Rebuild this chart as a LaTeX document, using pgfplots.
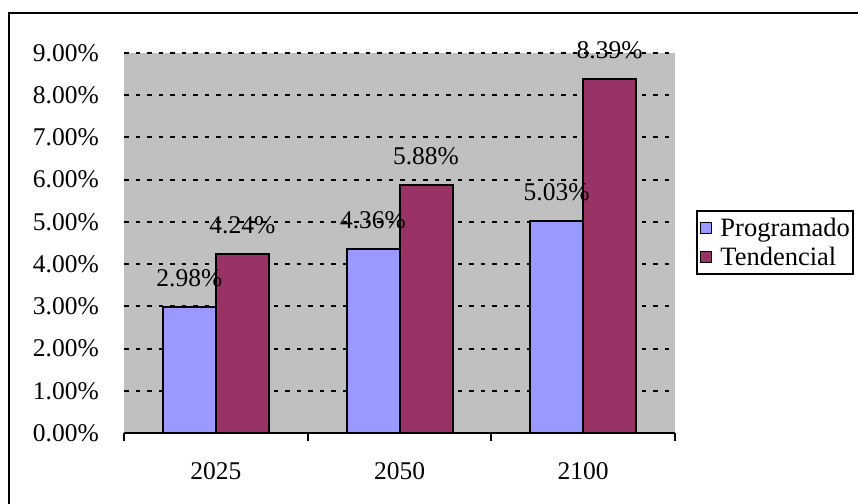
\documentclass[border=0pt]{standalone}
\usepackage{pgfplots}
\pgfplotsset{compat=1.18}
\usepackage{fontspec}
\setmainfont{Liberation Serif}
\definecolor{prog}{HTML}{9999FF}
\definecolor{tend}{HTML}{993366}
\definecolor{bg}{HTML}{C0C0C0}
\begin{document}
\begin{tikzpicture}[x=1bp,y=1bp]
\path[use as bounding box] (0,0) rectangle (858,504);
\draw[line width=2.5bp] (9,-5) -- (9,491) -- (865,491);
\begin{axis}[
  at={(124bp,71bp)}, anchor=south west,
  scale only axis, width=551bp, height=380bp,
  xmin=-0.5, xmax=2.5, ymin=0, ymax=9,
  axis x line*=bottom, axis y line*=left,
  x axis line style={line width=2bp},
  y axis line style={draw=none},
  axis background/.style={fill=bg},
  xtick={0,1,2}, xticklabels={2025,2050,2100},
  minor xtick={-0.5,0.5,1.5,2.5},
  major tick length=0pt, minor tick length=8bp,
  tick align=outside,
  minor tick style={line width=2bp, black},
  ytick={0,1,...,9},
  ytick style={draw=none},
  ymajorgrids,
  major grid style={black, line width=2bp, dash pattern=on 4.5bp off 7bp},
  /pgf/number format/assume math mode=true,
  yticklabel={\pgfmathprintnumber[fixed,fixed zerofill,precision=2]{\tick}\%},
  tick label style={font=\fontsize{25.5bp}{30bp}\selectfont},
  yticklabel style={anchor=east, inner sep=0pt, xshift=-25bp},
  xticklabel style={anchor=north, inner sep=0pt, yshift=-29bp},
  ybar=0pt, bar width=53bp,
  nodes near coords={\pgfmathprintnumber[fixed,fixed zerofill,precision=2]{\pgfplotspointmeta}\%},
  nodes near coords style={font=\fontsize{25.5bp}{30bp}\selectfont, anchor=south, inner sep=0pt, yshift=19bp, text=black},
  legend style={at={(axis description cs:1.038,0.587)}, anchor=north west,
    draw=black, line width=2bp, fill=white, inner xsep=3bp, inner ysep=7bp,
    nodes={inner sep=0bp},
    font=\fontsize{26.5bp}{31bp}\selectfont, row sep=9bp,
    /tikz/every odd column/.append style={column sep=8bp}},
  legend cell align=left,
  legend image code/.code={\draw[#1, line width=1.5bp] (0bp,-5.5bp) rectangle (11bp,5.5bp);},
]
\addplot[fill=prog, draw=black, line width=2bp] coordinates {(0,2.98) (1,4.36) (2,5.03)};
\addplot[fill=tend, draw=black, line width=2bp] coordinates {(0,4.24) (1,5.88) (2,8.39)};
\legend{Programado,Tendencial}
\end{axis}
\end{tikzpicture}
\end{document}
